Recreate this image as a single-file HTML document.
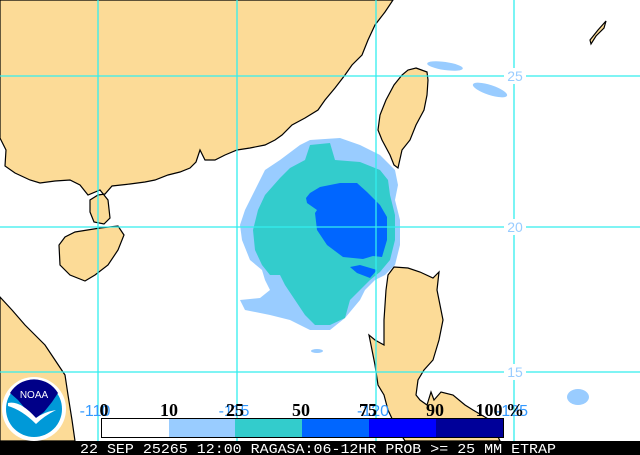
<!DOCTYPE html>
<html><head><meta charset="utf-8"><style>
html,body{margin:0;padding:0;background:#fff;}
svg{display:block;}
</style></head><body>
<svg width="640" height="455" viewBox="0 0 640 455" xmlns="http://www.w3.org/2000/svg">
<rect width="640" height="455" fill="#fff"/>
<g fill="#fcdb97" stroke="#000" stroke-width="1.2">
<path d="M0,0 L393,0 L385,12 L375,25 L368,40 L362,55 L352,65 L345,75 L335,88 L325,100 L318,110 L305,118 L292,125 L282,135 L275,140 L265,145 L250,148 L237,150 L225,155 L215,160 L205,160 L200,150 L196,162 L190,168 L180,172 L168,175 L155,180 L145,182 L130,184 L112,186 L105,194 L98,195 L90,200 L90,212 L94,222 L104,224 L110,218 L108,200 L100,190 L88,195 L80,185 L70,180 L55,181 L40,183 L30,180 L15,173 L5,166 L6,150 L0,138 Z"/>
<path d="M75,232 L100,228 L118,226 L124,235 L118,250 L108,265 L95,275 L85,281 L70,275 L60,265 L59,245 L65,237 Z"/>
<path d="M0,297 L12,310 L25,325 L35,335 L45,345 L55,360 L65,375 L68,395 L72,420 L75,441 L0,441 Z"/>
<path d="M416,68 L427,72 L428,80 L427,95 L424,110 L416,125 L410,140 L402,150 L398,168 L394,165 L390,155 L382,140 L378,130 L380,115 L386,100 L394,85 L402,75 L408,70 Z"/>
<path d="M394,267 L408,268 L420,272 L433,278 L439,272 L437,290 L441,310 L443,320 L439,340 L433,360 L424,370 L418,380 L416,395 L420,400 L427,405 L431,392 L434,400 L441,392 L453,395 L465,405 L473,410 L490,420 L500,441 L405,441 L395,425 L388,410 L384,395 L378,385 L375,365 L371,345 L369,335 L375,340 L384,345 L384,320 L386,290 L388,275 Z"/>
<path d="M590,40 L598,30 L606,21 L604,28 L596,36 L591,44 Z"/>
</g>
<g fill="#99ccff">
<path d="M310,140 L340,138 L360,145 L380,155 L395,170 L398,185 L395,200 L400,220 L400,245 L395,265 L385,275 L375,280 L365,290 L360,300 L345,318 L330,330 L310,330 L290,320 L270,315 L245,310 L240,300 L260,298 L270,290 L265,280 L262,270 L250,260 L242,240 L240,225 L245,210 L255,190 L265,170 L280,160 L300,145 Z"/>
<ellipse cx="445" cy="66" rx="18" ry="4" transform="rotate(8 445 66)"/>
<ellipse cx="490" cy="90" rx="18" ry="5" transform="rotate(18 490 90)"/>
<ellipse cx="578" cy="397" rx="11" ry="8"/>
<ellipse cx="317" cy="351" rx="6" ry="2"/>
</g>
<path fill="#33cccc" d="M310,145 L330,143 L335,160 L360,162 L380,170 L388,180 L390,195 L395,215 L395,240 L390,260 L380,272 L370,280 L360,290 L350,300 L345,318 L330,325 L315,325 L305,315 L295,300 L285,285 L280,275 L270,275 L262,265 L255,250 L253,230 L258,210 L265,195 L280,178 L290,168 L305,160 Z"/>
<path fill="#0066ff" d="M310,193 L320,187 L340,183 L357,183 L367,192 L380,205 L387,217 L387,240 L382,257 L373,256 L363,259 L343,257 L327,245 L317,230 L315,213 L317,210 L307,203 L306,198 Z"/>
<path fill="#0066ff" d="M350,267 L360,265 L377,270 L370,278 L357,273 Z"/>
<g stroke="#33eeee" stroke-width="1.3">
<line x1="98" y1="0" x2="98" y2="441"/>
<line x1="237" y1="0" x2="237" y2="441"/>
<line x1="376" y1="0" x2="376" y2="441"/>
<line x1="514" y1="0" x2="514" y2="441"/>
<line x1="0" y1="76" x2="640" y2="76"/>
<line x1="0" y1="227" x2="640" y2="227"/>
<line x1="0" y1="372" x2="640" y2="372"/>
</g>
<g font-family="Liberation Sans, sans-serif" font-size="14" fill="#99ccff" text-anchor="middle">
<rect x="504" y="68" width="22" height="16" fill="#fff"/><text x="515" y="81">25</text>
<rect x="504" y="219" width="22" height="16" fill="#fff"/><text x="515" y="232">20</text>
<rect x="504" y="364" width="22" height="16" fill="#fff"/><text x="515" y="377">15</text>
</g>
<g font-family="Liberation Sans, sans-serif" font-size="16" fill="#3399ff" text-anchor="middle">
<text x="95" y="416">-110</text>
<text x="234" y="416">-115</text>
<text x="373" y="416">-120</text>
<text x="512" y="416">-125</text>
</g>
<circle cx="34" cy="409" r="32" fill="#fff"/>
<circle cx="34" cy="409" r="28" fill="#0099d8"/>
<path d="M10,393 A28,28 0 0 1 58,393 L52,402 L44,412 L36,418 L28,412 L18,400 Z" fill="#000088"/>
<path d="M8,403 Q20,400 36,418 Q44,412 56,410 Q44,416 36,424 Q22,410 8,406 Z" fill="#fff"/>
<text x="34" y="398" font-family="Liberation Sans, sans-serif" font-size="10" fill="#fff" text-anchor="middle">NOAA</text>
<rect x="101" y="418" width="68" height="19" fill="#fff"/>
<rect x="169" y="418" width="66" height="19" fill="#99ccff"/>
<rect x="235" y="418" width="67" height="19" fill="#33cccc"/>
<rect x="302" y="418" width="67" height="19" fill="#0066ff"/>
<rect x="369" y="418" width="67" height="19" fill="#0000ff"/>
<rect x="436" y="418" width="67" height="19" fill="#000099"/>
<rect x="101.5" y="418.5" width="402" height="19" fill="none" stroke="#000" stroke-width="1"/>
<g font-family="Liberation Serif, serif" font-size="18" font-weight="bold" fill="#000" text-anchor="middle">
<text x="104" y="416">0</text>
<text x="169" y="416">10</text>
<text x="235" y="416">25</text>
<text x="301" y="416">50</text>
<text x="368" y="416">75</text>
<text x="435" y="416">90</text>
<text x="489" y="416">100</text>
<text x="515" y="416">%</text>
</g>
<rect x="0" y="441" width="640" height="14" fill="#000"/>
<text x="318" y="453" font-family="Liberation Mono, monospace" font-size="14" fill="#fff" text-anchor="middle" textLength="476" lengthAdjust="spacingAndGlyphs">22 SEP 25265 12:00 RAGASA:06-12HR PROB &gt;= 25 MM ETRAP</text>
</svg>
</body></html>
